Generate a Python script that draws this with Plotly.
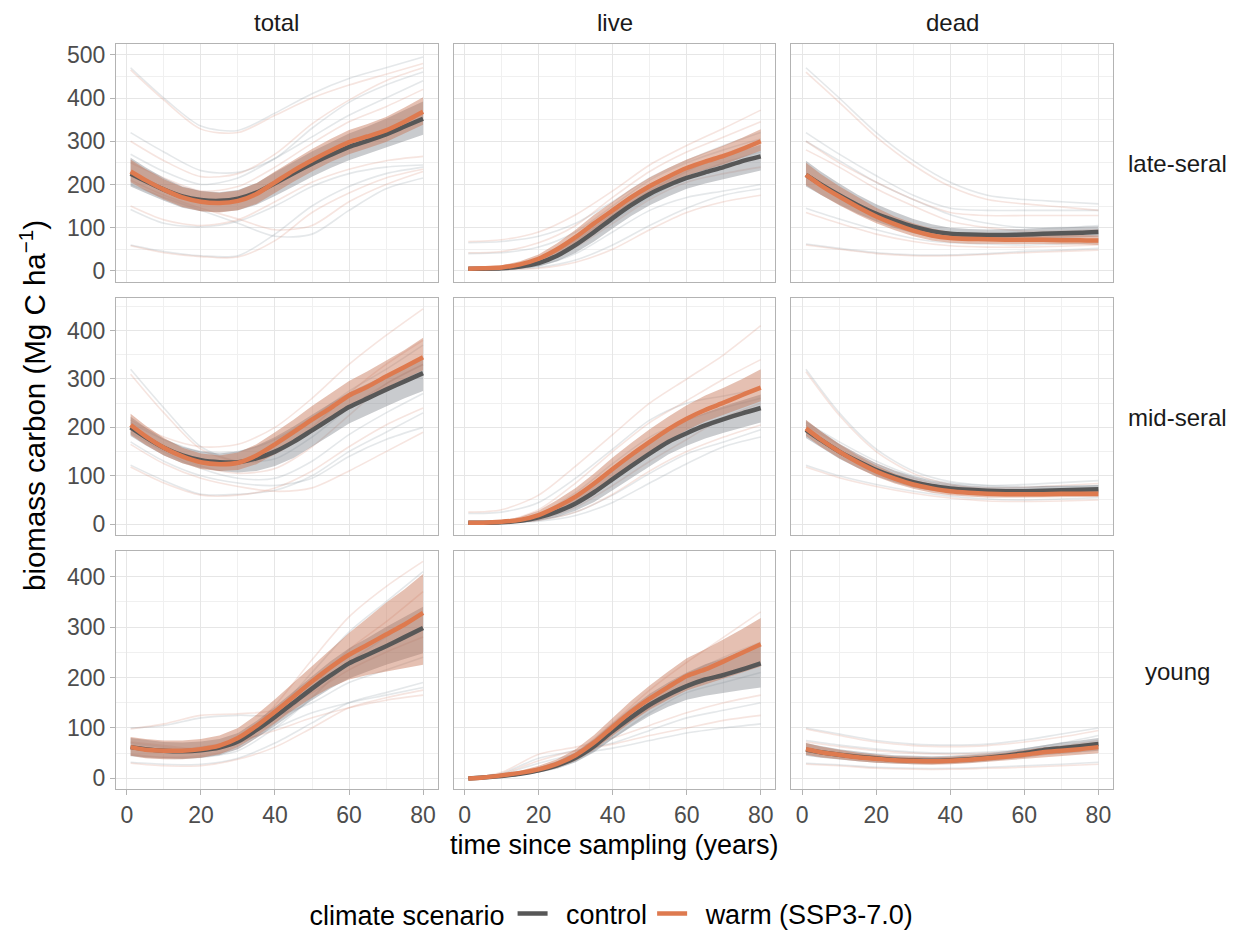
import plotly.graph_objects as go
from plotly.subplots import make_subplots

# ---- time axes -------------------------------------------------------------
YEARS = [1, 5, 10, 15, 20, 25, 30, 35, 40, 45, 50, 55, 60, 65, 70, 75, 80]
RUN_YEARS = [1, 10, 20, 30, 40, 50, 60, 70, 80]

STAGES = ["late-seral", "mid-seral", "young"]
POOLS = ["total", "live", "dead"]
SCENARIOS = ["control", "warm (SSP3-7.0)"]

# ---- late-seral ------------------------------------------------------------
LATE_TOTAL = dict(
    ctrl=[225, 208, 188, 172, 164, 162, 167, 181, 203, 226, 248, 268, 287, 301, 316, 334, 352],
    ctrl_lo=[195, 180, 162, 146, 138, 136, 140, 153, 173, 195, 218, 238, 256, 270, 285, 300, 315],
    ctrl_hi=[262, 240, 215, 195, 185, 182, 187, 203, 228, 252, 276, 297, 318, 334, 352, 372, 392],
    warm=[230, 210, 188, 170, 160, 157, 162, 178, 205, 232, 256, 278, 298, 311, 325, 345, 368],
    warm_lo=[205, 186, 165, 148, 138, 135, 140, 155, 180, 206, 230, 252, 270, 284, 298, 318, 338],
    warm_hi=[258, 236, 212, 194, 184, 181, 186, 203, 230, 257, 282, 305, 326, 340, 356, 378, 402],
    ctrl_runs=[[470, 400, 335, 325, 365, 410, 445, 470, 495],
               [320, 275, 232, 228, 260, 330, 390, 430, 460],
               [142, 110, 102, 115, 150, 195, 225, 240, 245],
               [60, 45, 35, 35, 85, 150, 195, 225, 240],
               [200, 170, 140, 110, 80, 85, 140, 190, 215],
               [270, 230, 200, 215, 260, 310, 360, 400, 440]],
    warm_runs=[[465, 395, 328, 320, 360, 400, 430, 455, 480],
               [300, 255, 218, 225, 270, 340, 395, 440, 470],
               [150, 118, 105, 118, 160, 205, 235, 255, 265],
               [58, 42, 33, 32, 70, 135, 180, 215, 235],
               [210, 175, 145, 120, 95, 105, 160, 200, 230],
               [250, 215, 185, 195, 240, 295, 345, 380, 420]],
)
LATE_LIVE = dict(
    ctrl=[5, 5, 6, 10, 18, 35, 60, 90, 122, 152, 178, 198, 215, 228, 240, 254, 265],
    ctrl_lo=[2, 2, 3, 5, 10, 22, 42, 68, 98, 127, 152, 172, 190, 202, 212, 222, 232],
    ctrl_hi=[9, 9, 11, 17, 28, 50, 78, 112, 146, 176, 202, 222, 240, 253, 266, 280, 292],
    warm=[5, 6, 8, 15, 28, 50, 78, 110, 140, 170, 196, 218, 238, 253, 266, 282, 300],
    warm_lo=[2, 3, 5, 10, 20, 38, 62, 92, 122, 152, 178, 200, 220, 234, 246, 262, 278],
    warm_hi=[9, 10, 13, 22, 38, 64, 95, 130, 160, 190, 216, 238, 258, 274, 290, 308, 328],
    ctrl_runs=[[65, 68, 80, 110, 160, 215, 255, 290, 320],
               [40, 42, 55, 90, 150, 210, 250, 280, 305],
               [3, 3, 8, 25, 60, 105, 145, 175, 190],
               [3, 4, 12, 40, 90, 140, 170, 185, 200],
               [3, 5, 20, 60, 115, 170, 215, 250, 275]],
    warm_runs=[[68, 72, 90, 130, 185, 245, 290, 330, 372],
               [42, 45, 65, 105, 170, 230, 275, 310, 345],
               [3, 3, 6, 20, 50, 95, 135, 160, 175],
               [3, 5, 18, 55, 110, 165, 205, 225, 240],
               [3, 6, 25, 70, 130, 185, 230, 270, 300]],
)
LATE_DEAD = dict(
    ctrl=[222, 200, 175, 152, 132, 116, 102, 92, 86, 84, 83, 83, 84, 86, 87, 88, 90],
    ctrl_lo=[195, 176, 153, 132, 114, 99, 87, 78, 73, 72, 72, 72, 73, 75, 76, 77, 79],
    ctrl_hi=[255, 230, 202, 176, 154, 136, 120, 108, 100, 97, 96, 96, 97, 99, 100, 101, 103],
    warm=[222, 198, 172, 148, 126, 108, 93, 82, 76, 74, 73, 72, 72, 72, 71, 71, 70],
    warm_lo=[198, 176, 152, 130, 110, 94, 80, 70, 65, 63, 62, 62, 62, 62, 62, 61, 60],
    warm_hi=[250, 224, 196, 170, 146, 126, 110, 98, 90, 87, 85, 84, 84, 84, 83, 83, 82],
    ctrl_runs=[[470, 400, 320, 255, 205, 175, 165, 160, 155],
               [320, 270, 220, 175, 145, 140, 140, 140, 140],
               [300, 255, 205, 165, 130, 110, 100, 100, 105],
               [145, 120, 95, 75, 65, 62, 60, 62, 65],
               [62, 52, 42, 37, 37, 40, 45, 48, 52]],
    warm_runs=[[460, 390, 310, 245, 195, 165, 155, 148, 140],
               [300, 250, 205, 165, 135, 128, 128, 128, 128],
               [280, 240, 190, 150, 115, 100, 92, 92, 95],
               [135, 110, 85, 68, 58, 55, 55, 57, 60],
               [60, 50, 40, 35, 35, 38, 42, 45, 48]],
)

# ---- mid-seral -------------------------------------------------------------
MID_TOTAL = dict(
    ctrl=[200, 180, 158, 142, 132, 128, 128, 136, 150, 170, 194, 218, 242, 260, 278, 295, 312],
    ctrl_lo=[182, 163, 142, 126, 116, 110, 107, 110, 120, 137, 160, 184, 208, 226, 243, 260, 275],
    ctrl_hi=[222, 200, 176, 160, 150, 146, 150, 162, 180, 202, 226, 250, 272, 290, 308, 326, 345],
    warm=[205, 182, 158, 140, 128, 124, 127, 142, 165, 190, 216, 240, 266, 284, 305, 325, 345],
    warm_lo=[185, 164, 142, 126, 114, 110, 112, 124, 145, 168, 194, 218, 242, 262, 282, 300, 318],
    warm_hi=[228, 204, 178, 158, 146, 142, 148, 165, 190, 216, 244, 270, 296, 316, 338, 360, 385],
    ctrl_runs=[[320, 240, 160, 130, 135, 180, 240, 290, 330],
               [122, 90, 62, 62, 70, 100, 150, 190, 230],
               [170, 130, 100, 85, 80, 95, 140, 175, 200],
               [210, 175, 150, 150, 175, 220, 275, 320, 370],
               [190, 150, 115, 95, 95, 130, 185, 230, 270]],
    warm_runs=[[310, 230, 155, 130, 145, 200, 270, 330, 380],
               [118, 85, 60, 60, 75, 110, 160, 205, 240],
               [165, 125, 95, 78, 68, 75, 110, 150, 190],
               [215, 180, 160, 165, 200, 260, 330, 390, 445],
               [195, 155, 120, 105, 115, 160, 225, 290, 330]],
)
MID_LIVE = dict(
    ctrl=[3, 3, 4, 7, 14, 26, 43, 66, 93, 120, 146, 170, 188, 204, 217, 229, 240],
    ctrl_lo=[1, 1, 2, 3, 7, 15, 28, 46, 70, 95, 120, 144, 162, 177, 189, 200, 210],
    ctrl_hi=[6, 6, 7, 12, 22, 38, 60, 88, 118, 146, 172, 196, 214, 230, 244, 256, 268],
    warm=[3, 3, 5, 9, 19, 36, 57, 84, 114, 143, 170, 196, 218, 236, 251, 267, 282],
    warm_lo=[1, 1, 2, 5, 12, 25, 42, 66, 94, 122, 148, 172, 194, 212, 226, 240, 254],
    warm_hi=[6, 6, 8, 15, 28, 50, 75, 105, 138, 168, 196, 222, 246, 266, 282, 300, 320],
    ctrl_runs=[[22, 25, 45, 95, 155, 215, 250, 265, 280],
               [3, 4, 20, 65, 125, 180, 215, 240, 260],
               [3, 3, 8, 25, 60, 105, 145, 170, 195],
               [3, 3, 6, 18, 45, 85, 125, 160, 180]],
    warm_runs=[[25, 30, 60, 120, 185, 250, 300, 350, 410],
               [3, 5, 30, 85, 150, 210, 255, 300, 340],
               [3, 3, 8, 25, 62, 110, 150, 180, 205],
               [3, 3, 10, 35, 80, 130, 175, 220, 250]],
)
MID_DEAD = dict(
    ctrl=[195, 174, 150, 130, 112, 98, 87, 79, 74, 71, 69, 68, 68, 69, 70, 71, 72],
    ctrl_lo=[178, 158, 135, 116, 99, 86, 76, 69, 65, 62, 61, 60, 60, 61, 62, 63, 64],
    ctrl_hi=[215, 192, 166, 145, 126, 111, 99, 90, 84, 80, 78, 77, 77, 79, 79, 80, 81],
    warm=[198, 175, 150, 128, 109, 94, 82, 74, 68, 65, 63, 62, 62, 62, 63, 63, 63],
    warm_lo=[182, 160, 136, 116, 98, 84, 73, 65, 60, 57, 55, 55, 55, 55, 56, 56, 56],
    warm_hi=[216, 192, 165, 142, 122, 105, 92, 83, 77, 73, 71, 70, 70, 70, 71, 71, 71],
    ctrl_runs=[[320, 230, 155, 110, 88, 80, 78, 78, 80],
               [122, 100, 82, 68, 58, 52, 50, 52, 55],
               [210, 170, 130, 100, 85, 80, 82, 86, 90]],
    warm_runs=[[315, 225, 150, 105, 82, 72, 70, 70, 72],
               [118, 96, 78, 64, 54, 48, 47, 48, 50],
               [205, 165, 125, 95, 80, 75, 76, 80, 84]],
)

# ---- young -----------------------------------------------------------------
YOUNG_TOTAL = dict(
    ctrl=[62, 58, 55, 54, 56, 61, 73, 96, 122, 150, 178, 204, 228, 245, 262, 280, 298],
    ctrl_lo=[45, 42, 40, 39, 41, 46, 58, 80, 104, 130, 155, 178, 198, 212, 225, 237, 248],
    ctrl_hi=[80, 76, 72, 71, 73, 78, 90, 114, 142, 172, 202, 232, 258, 278, 300, 320, 340],
    warm=[62, 57, 55, 55, 58, 65, 80, 104, 132, 162, 192, 220, 245, 265, 285, 305, 328],
    warm_lo=[45, 40, 38, 38, 41, 48, 62, 84, 110, 136, 160, 180, 196, 205, 212, 218, 225],
    warm_hi=[82, 78, 75, 75, 78, 85, 100, 126, 157, 190, 222, 256, 288, 318, 348, 375, 405],
    ctrl_runs=[[100, 105, 120, 125, 125, 150, 190, 215, 240],
               [32, 28, 28, 40, 70, 110, 150, 170, 190],
               [70, 62, 55, 70, 130, 210, 290, 350, 410],
               [45, 40, 42, 55, 100, 160, 230, 280, 330],
               [60, 55, 60, 70, 100, 130, 150, 165, 180]],
    warm_runs=[[98, 108, 125, 128, 135, 170, 215, 250, 280],
               [30, 25, 25, 38, 62, 100, 140, 160, 175],
               [72, 65, 58, 75, 145, 235, 320, 380, 430],
               [48, 42, 45, 60, 110, 180, 255, 310, 370],
               [62, 55, 62, 75, 95, 120, 140, 155, 165]],
)
YOUNG_LIVE = dict(
    ctrl=[0, 2, 5, 9, 16, 26, 41, 64, 94, 121, 146, 166, 183, 196, 205, 216, 228],
    ctrl_lo=[0, 1, 3, 6, 11, 19, 32, 52, 78, 102, 124, 142, 156, 164, 170, 175, 180],
    ctrl_hi=[1, 3, 7, 13, 22, 34, 52, 78, 110, 140, 168, 190, 210, 226, 238, 252, 268],
    warm=[0, 2, 6, 11, 18, 29, 46, 71, 102, 132, 158, 181, 203, 216, 232, 249, 266],
    warm_lo=[0, 1, 4, 7, 12, 21, 35, 57, 85, 112, 136, 156, 174, 186, 198, 210, 222],
    warm_hi=[1, 4, 9, 15, 25, 38, 58, 86, 120, 154, 184, 212, 238, 256, 276, 296, 318],
    ctrl_runs=[[0, 10, 40, 55, 70, 95, 120, 135, 150],
               [0, 8, 30, 48, 60, 75, 90, 100, 108],
               [0, 5, 18, 45, 100, 160, 205, 240, 270],
               [0, 4, 15, 35, 80, 130, 170, 190, 210]],
    warm_runs=[[0, 12, 48, 62, 80, 105, 130, 150, 165],
               [0, 9, 35, 55, 68, 85, 100, 115, 125],
               [0, 6, 20, 50, 110, 175, 230, 280, 330],
               [0, 5, 17, 40, 90, 140, 180, 205, 225]],
)
YOUNG_DEAD = dict(
    ctrl=[57, 52, 47, 43, 40, 37, 36, 35, 36, 38, 41, 45, 50, 56, 60, 64, 68],
    ctrl_lo=[45, 41, 37, 34, 31, 29, 28, 28, 29, 31, 34, 37, 41, 46, 49, 52, 55],
    ctrl_hi=[70, 64, 58, 53, 49, 46, 45, 44, 45, 47, 50, 54, 60, 66, 71, 75, 80],
    warm=[58, 52, 47, 42, 39, 36, 35, 34, 35, 37, 40, 43, 47, 52, 55, 58, 62],
    warm_lo=[47, 42, 38, 34, 31, 29, 28, 27, 28, 30, 32, 35, 38, 42, 45, 47, 50],
    warm_hi=[70, 63, 57, 51, 47, 44, 43, 42, 43, 45, 48, 51, 56, 61, 64, 68, 72],
    ctrl_runs=[[100, 88, 75, 68, 66, 68, 76, 88, 100],
               [30, 27, 22, 20, 20, 22, 25, 28, 32],
               [75, 66, 58, 52, 50, 52, 58, 70, 85]],
    warm_runs=[[98, 85, 72, 65, 63, 65, 72, 82, 95],
               [28, 25, 20, 18, 18, 20, 22, 25, 28],
               [72, 63, 55, 50, 48, 50, 55, 64, 75]],
)

PANELS = [
    [LATE_TOTAL, LATE_LIVE, LATE_DEAD],
    [MID_TOTAL, MID_LIVE, MID_DEAD],
    [YOUNG_TOTAL, YOUNG_LIVE, YOUNG_DEAD],
]
ROW_RANGES = [[-25, 525], [-23, 468], [-21, 450]]
ROW_TICKS = [[0, 100, 200, 300, 400, 500], [0, 100, 200, 300, 400], [0, 100, 200, 300, 400]]

# ---- styling ---------------------------------------------------------------
FONT = "Liberation Sans, Arial, Helvetica, sans-serif"
CTRL_LINE = "#575757"
WARM_LINE = "#DE7A4F"
CTRL_FILL = "rgba(120,126,132,0.40)"
WARM_FILL = "rgba(196,112,80,0.44)"
CTRL_RUN = "rgba(135,148,160,0.22)"
WARM_RUN = "rgba(215,135,115,0.22)"
BORDER = "#B3B3B3"
GRID = "#E6E6E6"
GRID_MINOR = "#F0F0F0"

W, H = 1243, 930
ML, MR, MT, MB = 116, 130, 44, 141
PW, PH = W - ML - MR, H - MT - MB

fig = make_subplots(
    rows=3, cols=3,
    shared_xaxes=True,
    horizontal_spacing=16 / PW,
    vertical_spacing=16 / PH,
)

for r, row in enumerate(PANELS, start=1):
    for c, p in enumerate(row, start=1):
        first = (r == 1 and c == 1)
        # individual plot trajectories
        for runs, col in ((p["ctrl_runs"], CTRL_RUN), (p["warm_runs"], WARM_RUN)):
            for run in runs:
                fig.add_trace(go.Scatter(
                    x=RUN_YEARS, y=run, mode="lines",
                    line=dict(color=col, width=1.6, shape="spline", smoothing=0.8),
                    showlegend=False, hoverinfo="skip"), row=r, col=c)
        # uncertainty ribbons
        for lo, hi, col in ((p["ctrl_lo"], p["ctrl_hi"], CTRL_FILL),
                            (p["warm_lo"], p["warm_hi"], WARM_FILL)):
            fig.add_trace(go.Scatter(
                x=YEARS + YEARS[::-1], y=hi + lo[::-1], mode="lines",
                fill="toself", fillcolor=col, line=dict(width=0),
                showlegend=False, hoverinfo="skip"), row=r, col=c)
        # mean trajectories
        for key, name, col in (("ctrl", SCENARIOS[0], CTRL_LINE),
                               ("warm", SCENARIOS[1], WARM_LINE)):
            fig.add_trace(go.Scatter(
                x=YEARS, y=p[key], mode="lines", name="\u2002" + name,
                legendgroup=name, showlegend=first,
                line=dict(color=col, width=4.5, shape="spline", smoothing=0.6)),
                row=r, col=c)

fig.update_xaxes(
    range=[-2.95, 83.95], tickvals=[0, 20, 40, 60, 80],
    showgrid=True, gridcolor=GRID, gridwidth=1.2,
    minor=dict(dtick=10, tick0=0, showgrid=True, gridcolor=GRID_MINOR, gridwidth=0.8),
    showline=True, mirror=True, linecolor=BORDER, linewidth=1,
    zeroline=False, ticks="", tickfont=dict(family=FONT, size=23, color="#4D4D4D"),
)
fig.update_xaxes(ticks="outside", ticklen=5, tickcolor=BORDER, row=3)

for r in range(1, 4):
    fig.update_yaxes(
        range=ROW_RANGES[r - 1], tickvals=ROW_TICKS[r - 1],
        showgrid=True, gridcolor=GRID, gridwidth=1.2,
        minor=dict(dtick=50, tick0=0, showgrid=True, gridcolor=GRID_MINOR, gridwidth=0.8),
        showline=True, mirror=True, linecolor=BORDER, linewidth=1,
        zeroline=False, ticks="", showticklabels=False,
        tickfont=dict(family=FONT, size=23, color="#4D4D4D"),
        row=r)
    fig.update_yaxes(ticks="outside", ticklen=5, tickcolor=BORDER,
                     showticklabels=True, row=r, col=1)

annotations = []
for c, name in enumerate(POOLS):
    xc = (c * (PW + 16) / 3 + (PW - 32) / 6) / PW
    annotations.append(dict(text=name, x=xc, y=(PH + MT - 22) / PH,
                            xref="paper", yref="paper", showarrow=False,
                            xanchor="center", yanchor="middle",
                            font=dict(family=FONT, size=24, color="#1A1A1A")))
row_centers = [(789 - 163) / PH, (789 - 417) / PH, (789 - 671) / PH]
for rc, name in zip(row_centers, STAGES):
    annotations.append(dict(text=name, x=(1177 - ML) / PW, y=rc,
                            xref="paper", yref="paper", showarrow=False,
                            xanchor="center", yanchor="middle",
                            font=dict(family=FONT, size=24, color="#1A1A1A")))
annotations.append(dict(text="time since sampling (years)", x=(614 - ML) / PW,
                        y=(789 - 845) / PH, xref="paper", yref="paper",
                        showarrow=False, xanchor="center", yanchor="middle",
                        font=dict(family=FONT, size=27, color="#000000")))
annotations.append(dict(text="biomass carbon (Mg C ha<sup>\u22121</sup>)",
                        x=(32 - ML) / PW, y=(789 - 406) / PH, textangle=-90,
                        xref="paper", yref="paper", showarrow=False,
                        xanchor="center", yanchor="middle",
                        font=dict(family=FONT, size=29.5, color="#000000")))

fig.update_layout(
    width=W, height=H,
    margin=dict(l=ML, r=MR, t=MT, b=MB, autoexpand=False),
    paper_bgcolor="white", plot_bgcolor="white",
    annotations=annotations,
    showlegend=True,
    legend=dict(
        orientation="h", x=613 / W, xanchor="center", xref="container",
        y=(H - 914) / H, yanchor="middle", yref="container",
        title=dict(text="climate scenario", side="left",
                   font=dict(family=FONT, size=27, color="#000000")),
        font=dict(family=FONT, size=27, color="#000000"),
        itemwidth=30, tracegroupgap=0,
    ),
)

fig.write_html("out.html")
